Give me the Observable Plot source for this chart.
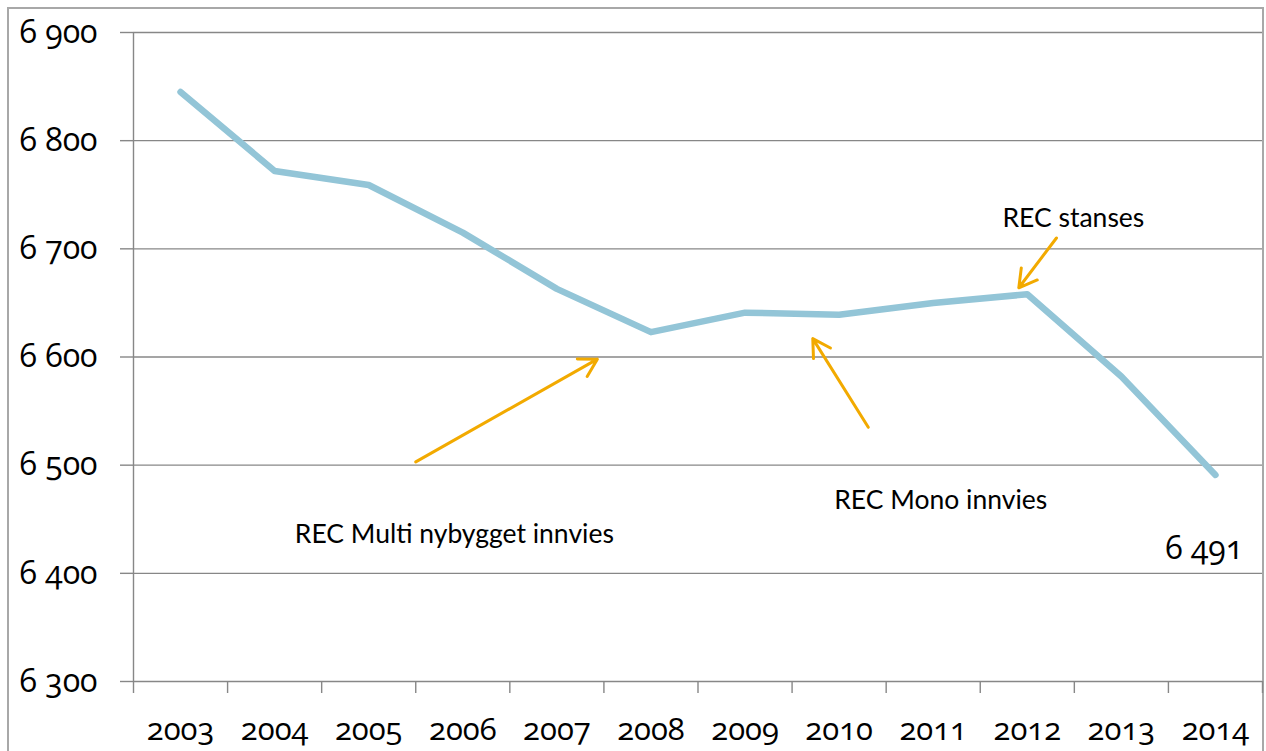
<!DOCTYPE html>
<html>
<head>
<meta charset="utf-8">
<script src="https://cdn.jsdelivr.net/npm/d3@7"></script>
<script src="https://cdn.jsdelivr.net/npm/@observablehq/plot@0.6"></script>
<style>
  html, body { margin: 0; padding: 0; background: #fff; overflow: hidden; }
  #frame { position: absolute; left: 7px; top: 7px; width: 1257px; height: 800px; border: 2px solid #a8a8a8; box-sizing: border-box; }
  #chart { position: absolute; left: 0; top: 0; }
  #chart svg text { font-variant-numeric: oldstyle-nums; font-feature-settings: "onum" 1; }
</style>
</head>
<body>
<div id="frame"></div>
<div id="chart"></div>
<script>
// Data
const years = [2003, 2004, 2005, 2006, 2007, 2008, 2009, 2010, 2011, 2012, 2013, 2014];
const values = [6845, 6772, 6759, 6715, 6663, 6623, 6641, 6639, 6650, 6658, 6582, 6491];
const yTicks = [6300, 6400, 6500, 6600, 6700, 6800, 6900];
const yearBounds = [2002.5, 2003.5, 2004.5, 2005.5, 2006.5, 2007.5, 2008.5, 2009.5, 2010.5, 2011.5, 2012.5, 2013.5, 2014.5];

// Annotations (data coordinates)
const noteTexts = ["REC Multi nybygget innvies", "REC Mono innvies", "REC stanses"];
const noteX = [2005.91, 2011.08, 2012.49];
const noteY = [6436, 6467, 6728];
const arrowFromX = [2005.50, 2010.31, 2012.31];
const arrowFromY = [6503, 6535, 6710];
const arrowToX = [2007.43, 2009.72, 2011.91];
const arrowToY = [6598, 6617, 6664];
const lastLabel = "6 491";
const lastLabelX = 2013.88;
const lastLabelY = 6423;

const data = years.map((year, i) => ({year, value: values[i]}));
const notes = noteTexts.map((text, i) => ({text, x: noteX[i], y: noteY[i]}));
const arrows = arrowFromX.map((x1, i) => ({x1, y1: arrowFromY[i], x2: arrowToX[i], y2: arrowToY[i]}));

const fmt = d => d3.format(",")(d).replace(/,/g, " ");
const numFont = "'Open Sans', Lato, sans-serif";

const chart = Plot.plot({
  width: 1266,
  height: 751,
  marginLeft: 133,
  marginRight: 4,
  marginTop: 32,
  marginBottom: 70,
  style: {fontFamily: "Lato, sans-serif", background: "transparent", color: "#000", overflow: "visible"},
  x: {domain: [2002.5, 2014.5]},
  y: {domain: [6300, 6900]},
  marks: [
    Plot.gridY(yTicks, {stroke: "#878787", strokeOpacity: 1, strokeWidth: 1.4}),
    Plot.axisY(yTicks, {tickSize: 13, tickPadding: 23, tickFormat: fmt, fontSize: 32, fontFamily: numFont, stroke: "#878787", strokeWidth: 1.4, label: null}),
    Plot.ruleX([2002.5], {y1: 6300, y2: 6900, stroke: "#878787", strokeWidth: 1.4}),
    Plot.axisX(yearBounds, {tickSize: 12, tickFormat: () => "", stroke: "#878787", strokeWidth: 1.4, label: null}),
    Plot.axisX(years, {tickSize: 0, tickPadding: 36, tickFormat: d => String(d), fontSize: 31, fontFamily: numFont, label: null}),
    Plot.line(data, {x: "year", y: "value", stroke: "#93c5d7", strokeWidth: 6.5, strokeLinecap: "round", strokeLinejoin: "round"}),
    Plot.arrow(arrows, {x1: "x1", y1: "y1", x2: "x2", y2: "y2", stroke: "#f2aa00", strokeWidth: 3, headLength: 10, headAngle: 60}),
    Plot.text(notes, {x: "x", y: "y", text: "text", fontSize: 26.5, fill: "#000"}),
    Plot.text([lastLabel], {x: lastLabelX, y: lastLabelY, text: d => d, fontSize: 32, fontFamily: numFont, fill: "#000"})
  ]
});
document.getElementById("chart").appendChild(chart);
</script>
</body>
</html>
